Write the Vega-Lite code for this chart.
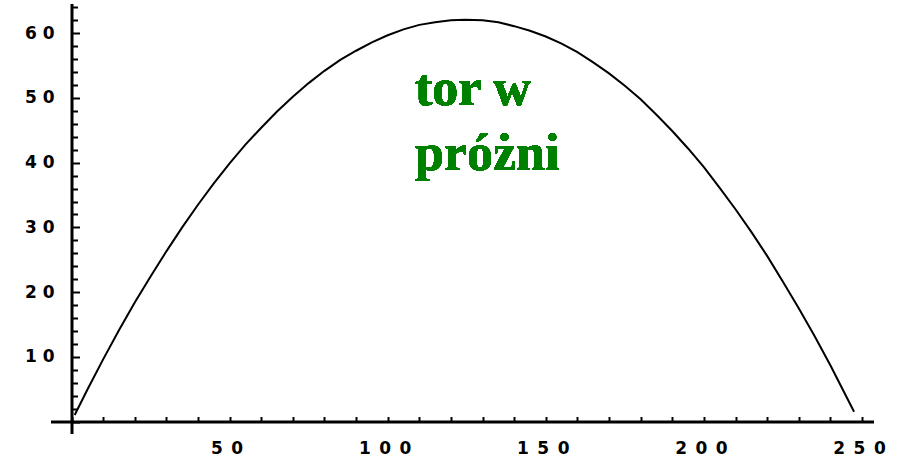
{
  "$schema": "https://vega.github.io/schema/vega-lite/v6.json",
  "autosize": {"type": "none"},
  "padding": {"left": 52, "top": 5, "right": 27, "bottom": 28},
  "width": 820,
  "height": 427,
  "background": "white",
  "config": {"view": {"stroke": null}},
  "data": {"values": [
    {"x": 1, "y": 1.0},
    {"x": 5, "y": 4.9},
    {"x": 10, "y": 9.6},
    {"x": 15, "y": 14.1},
    {"x": 20, "y": 18.4},
    {"x": 25, "y": 22.4},
    {"x": 30, "y": 26.3},
    {"x": 35, "y": 30.0},
    {"x": 40, "y": 33.5},
    {"x": 45, "y": 36.8},
    {"x": 50, "y": 39.9},
    {"x": 55, "y": 42.8},
    {"x": 60, "y": 45.4},
    {"x": 65, "y": 47.9},
    {"x": 70, "y": 50.2},
    {"x": 75, "y": 52.3},
    {"x": 80, "y": 54.2},
    {"x": 85, "y": 55.9},
    {"x": 90, "y": 57.3},
    {"x": 95, "y": 58.6},
    {"x": 100, "y": 59.7},
    {"x": 105, "y": 60.6},
    {"x": 110, "y": 61.3},
    {"x": 115, "y": 61.7},
    {"x": 120, "y": 62.0},
    {"x": 124.5, "y": 62.1},
    {"x": 130, "y": 62.0},
    {"x": 135, "y": 61.7},
    {"x": 140, "y": 61.1},
    {"x": 145, "y": 60.4},
    {"x": 150, "y": 59.5},
    {"x": 155, "y": 58.4},
    {"x": 160, "y": 57.1},
    {"x": 165, "y": 55.5},
    {"x": 170, "y": 53.8},
    {"x": 175, "y": 51.9},
    {"x": 180, "y": 49.8},
    {"x": 185, "y": 47.4},
    {"x": 190, "y": 44.9},
    {"x": 195, "y": 42.2},
    {"x": 200, "y": 39.3},
    {"x": 205, "y": 36.1},
    {"x": 210, "y": 32.8},
    {"x": 215, "y": 29.3},
    {"x": 220, "y": 25.6},
    {"x": 225, "y": 21.6},
    {"x": 230, "y": 17.5},
    {"x": 235, "y": 13.2},
    {"x": 240, "y": 8.7},
    {"x": 245, "y": 3.9},
    {"x": 247.5, "y": 1.5}
  ]},
  "layer": [
    {
      "mark": {"type": "line", "color": "black", "strokeWidth": 2, "clip": false},
      "encoding": {
        "x": {
          "field": "x", "type": "quantitative",
          "scale": {"domain": [-6.17, 253.17], "nice": false, "zero": false},
          "axis": {
            "title": null,
            "orient": "bottom",
            "offset": -10.5,
            "tickCount": 200,
            "format": "d",
            "values": [0,10,20,30,40,50,60,70,80,90,100,110,120,130,140,150,160,170,180,190,200,210,220,230,240,250],
            "grid": false,
            "domainColor": "black",
            "domainWidth": 3,
            "domainCap": "square",
            "tickColor": "black",
            "tickWidth": 2,
            "tickSize": -5,
            "labelPadding": 24,
            "labelOffset": -3,
            "labelExpr": "datum.value > 0 && datum.value % 50 === 0 ? join(split(datum.label, ''), '\u2002') : ''",
            "labelFont": "DejaVu Sans",
            "labelFontWeight": "bold",
            "labelFontSize": 17,
            "labelColor": "black",
            "labelFlush": false,
            "labelOverlap": false
          }
        },
        "y": {
          "field": "y", "type": "quantitative",
          "scale": {"domain": [-1.62, 64.37], "nice": false, "zero": false},
          "axis": {
            "title": null,
            "orient": "left",
            "offset": -19.5,
            "tickCount": 200,
            "format": "d",
            "values": [0,2,4,6,8,10,12,14,16,18,20,22,24,26,28,30,32,34,36,38,40,42,44,46,48,50,52,54,56,58,60,62,64],
            "grid": false,
            "domainColor": "black",
            "domainWidth": 3,
            "domainCap": "square",
            "tickColor": "black",
            "tickWidth": 2,
            "tickSize": {"condition": {"test": "datum.value % 10 === 0", "value": -8}, "value": -6},
            "labelPadding": 25.5,
            "labelExpr": "datum.value > 0 && datum.value % 10 === 0 ? join(split(datum.label, ''), ' ') : ''",
            "labelFont": "DejaVu Sans",
            "labelFontWeight": "bold",
            "labelFontSize": 17,
            "labelColor": "black",
            "labelFlush": false,
            "labelOverlap": false
          }
        }
      }
    },
    {
      "mark": {"type": "text", "align": "left", "baseline": "alphabetic", "font": "Liberation Serif", "fontWeight": "bold", "fontSize": 52, "color": "#008000", "lineHeight": 65},
      "encoding": {
        "x": {"datum": 108.6, "type": "quantitative"},
        "y": {"datum": 48.9, "type": "quantitative"},
        "text": {"value": ["tor w", "próżni"]}
      }
    }
  ]
}
